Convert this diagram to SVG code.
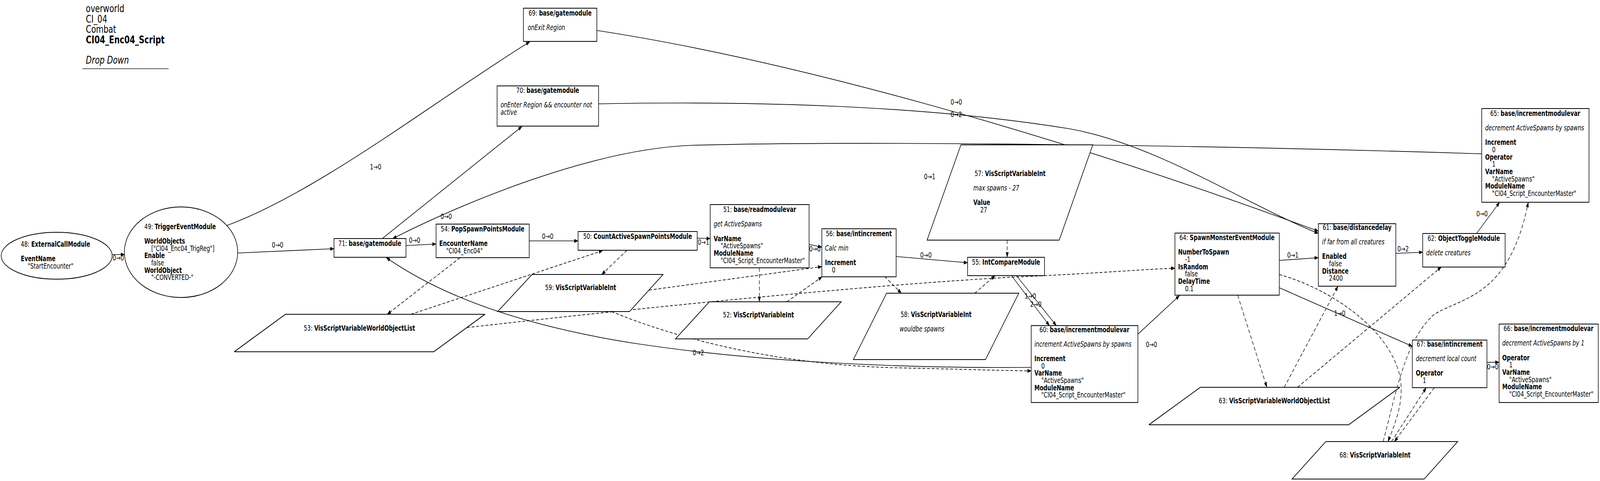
<svg xmlns="http://www.w3.org/2000/svg" width="5533" height="1232" viewBox="0 0 5533 1232" preserveAspectRatio="none">
<defs>
<style>
svg{width:100vw;height:100vh}
text{font-family:"DejaVu Sans","Liberation Sans",sans-serif;font-size:18.67px;fill:#000}
.b{font-weight:bold}
.i{font-style:italic}
.m{text-anchor:middle}
.hd{font-size:26.67px}
.s{fill:#fff;stroke:#000;stroke-width:2}
.c path{fill:none;stroke:#000;stroke-width:1.7;marker-end:url(#a)}
.c .d{stroke-dasharray:10,6}
.c text{text-anchor:middle}
</style>
<marker id="a" viewBox="0 0 14 10" refX="13" refY="5" markerWidth="14" markerHeight="10" orient="auto" markerUnits="userSpaceOnUse"><path d="M0,0L14,5L0,10z" fill="#000" stroke="none"/></marker>
</defs>
<rect x="0" y="0" width="5533" height="1232" fill="#fff"/>
<g id="title">
<text class="hd" x="297" y="31">overworld</text>
<text class="hd" x="297" y="58">CI_04</text>
<text class="hd" x="297" y="84">Combat</text>
<text class="hd b" x="297" y="111">CI04_Enc04_Script</text>
<text class="hd i" x="297" y="163">Drop Down</text>
<line x1="285" y1="176" x2="583" y2="176" stroke="#555" stroke-width="2"/>
</g>
<g id="connectors" class="c">
<path d="M388,652L431,652"/><text x="409" y="667">0→0</text>
<path d="M783,578C1100,492 1500,260 1832,107"/><text x="1299" y="434">1→0</text>
<path d="M822,648L1155,637"/><text x="960" y="634">0→0</text>
<path d="M1404,629L1508,625"/><text x="1434" y="622">0→0</text>
<path d="M1322,611L1805,324"/><text x="1543" y="561">0→0</text>
<path d="M2064,78C2700,150 3600,330 4559,592"/><text x="3307" y="268">0→0</text>
<path d="M2070,266C2600,258 3200,270 3700,330C4000,370 4300,520 4559,598"/><text x="3307" y="300">0→2</text>
<path d="M5124,394C4200,372 3000,360 2400,372C2050,380 1600,520 1358,611"/><text x="3215" y="459">0→1</text>
<path d="M1830,617L1999,617"/><text x="1894" y="612">0→0</text>
<path d="M2411,610L2456,611"/><text x="2433" y="627">0→1</text>
<path d="M2798,626L2842,633"/><text x="2818" y="644">0→0</text>
<path d="M3099,657L3346,673"/><text x="3202" y="660">0→0</text>
<path d="M3498,706L3629,834"/><text x="3563" y="765">1→0</text>
<path d="M3515,706L3653,834"/><text x="3582" y="786">2→0</text>
<path d="M3566,941C3100,944 2600,925 2200,880C1850,840 1550,770 1336,660"/><text x="2415" y="910">0→2</text>
<path d="M3935,856L4079,757"/><text x="3982" y="889">0→0</text>
<path d="M4424,667L4559,660"/><text x="4471" y="660">0→1</text>
<path d="M4827,649L4920,646"/><text x="4852" y="644">0→2</text>
<path d="M5106,598L5186,518"/><text x="5125" y="554">0→0</text>
<path d="M4424,737L4884,887"/><text x="4633" y="809">1→0</text>
<path d="M5142,928L5184,928"/><text x="5162" y="946">0→0</text>
<path class="d" d="M1591,660L1339,805"/>
<path class="d" d="M1421,805L2084,642"/>
<path class="d" d="M2168,641L2081,703"/>
<path class="d" d="M2626,686L2626,773"/>
<path class="d" d="M2721,773L2843,709"/>
<path class="d" d="M2245,743L2842,683"/>
<path class="d" d="M2115,798C2350,870 2700,935 3100,942C3300,945 3450,949 3566,950"/>
<path class="d" d="M1615,839C2200,790 3000,730 3500,710C3800,700 3950,690 4063,687"/>
<path class="d" d="M3059,708L3117,751"/>
<path class="d" d="M3371,751L3441,706"/>
<path class="d" d="M3483,615L3483,659"/>
<path class="d" d="M4280,756L4381,992"/>
<path class="d" d="M4441,992L4627,733"/>
<path class="d" d="M4487,992L4984,684"/>
<path class="d" d="M4424,703C4600,740 4800,840 4840,960C4860,1030 4820,1090 4800,1131"/>
<path class="d" d="M4783,1131C4830,1000 4860,870 4960,805C5060,760 5220,760 5285,518"/>
<path class="d" d="M4812,1131L4932,993"/>
<path class="d" d="M4960,993L4822,1131"/>
</g>
<g id="n48"><ellipse class="s" cx="196" cy="655" rx="192" ry="60"/>
<text x="72" y="632">48: <tspan class="b">ExternalCallModule</tspan></text>
<text class="b" x="72" y="669">EventName</text>
<text x="96" y="688">"StartEncounter"</text></g>
<g id="n49"><ellipse class="s" cx="626" cy="646" rx="196" ry="116"/>
<text x="499" y="587">49: <tspan class="b">TriggerEventModule</tspan></text>
<text class="b" x="499" y="624">WorldObjects</text>
<text x="523" y="643">["CI04_Enc04_TrigReg"]</text>
<text class="b" x="499" y="661">Enable</text>
<text x="523" y="680">false</text>
<text class="b" x="499" y="699">WorldObject</text>
<text x="523" y="717">"-CONVERTED-"</text></g>
<g id="n69"><rect class="s" x="1810" y="21" width="254" height="85"/>
<text class="m" x="1937" y="40">69: <tspan class="b">base/gatemodule</tspan></text>
<text class="i" x="1825" y="77">onExit Region</text></g>
<g id="n70"><rect class="s" x="1719" y="220" width="351" height="103"/>
<text class="m" x="1894" y="238">70: <tspan class="b">base/gatemodule</tspan></text>
<text class="i" x="1731" y="275">onEnter Region &amp;&amp; encounter not</text>
<text class="i" x="1731" y="294">active</text></g>
<g id="n71"><rect class="s" x="1155" y="611" width="249" height="48"/>
<text class="m" x="1279" y="630">71: <tspan class="b">base/gatemodule</tspan></text></g>
<g id="n54"><rect class="s" x="1508" y="574" width="322" height="86"/>
<text class="m" x="1669" y="593">54: <tspan class="b">PopSpawnPointsModule</tspan></text>
<text class="b" x="1519" y="630">EncounterName</text>
<text x="1543" y="649">"CI04_Enc04"</text></g>
<g id="n50"><rect class="s" x="1999" y="593" width="412" height="48"/>
<text class="m" x="2205" y="612">50: <tspan class="b">CountActiveSpawnPointsModule</tspan></text></g>
<g id="n51"><rect class="s" x="2456" y="524" width="342" height="162"/>
<text class="m" x="2627" y="543">51: <tspan class="b">base/readmodulevar</tspan></text>
<text class="i" x="2468" y="580">get ActiveSpawns</text>
<text class="b" x="2468" y="618">VarName</text>
<text x="2492" y="636">"ActiveSpawns"</text>
<text class="b" x="2468" y="655">ModuleName</text>
<text x="2492" y="674">"CI04_Script_EncounterMaster"</text></g>
<g id="n52"><polygon class="s" points="2453,773 2909,773 2793,868 2336,868"/>
<text class="m" x="2623" y="813">52: <tspan class="b">VisScriptVariableInt</tspan></text></g>
<g id="n53"><polygon class="s" points="987,805 1677,805 1500,901 810,901"/>
<text class="m" x="1243" y="847">53: <tspan class="b">VisScriptVariableWorldObjectList</tspan></text></g>
<g id="n55"><rect class="s" x="3346" y="659" width="266" height="47"/>
<text class="m" x="3479" y="678">55: <tspan class="b">IntCompareModule</tspan></text></g>
<g id="n56"><rect class="s" x="2842" y="586" width="257" height="123"/>
<text class="m" x="2970" y="605">56: <tspan class="b">base/intincrement</tspan></text>
<text class="i" x="2853" y="642">Calc min</text>
<text class="b" x="2853" y="679">Increment</text>
<text x="2877" y="698">0</text></g>
<g id="n57"><polygon class="s" points="3323,371 3779,371 3663,615 3206,615"/>
<text class="m" x="3493" y="451">57: <tspan class="b">VisScriptVariableInt</tspan></text>
<text class="i" x="3366" y="488">max spawns - 27</text>
<text class="b" x="3366" y="525">Value</text>
<text x="3390" y="544">27</text></g>
<g id="n58"><polygon class="s" points="3066,751 3523,751 3408,921 2951,921"/>
<text class="m" x="3237" y="812">58: <tspan class="b">VisScriptVariableInt</tspan></text>
<text class="i" x="3111" y="849">wouldbe spawns</text></g>
<g id="n59"><polygon class="s" points="1840,703 2293,703 2177,798 1721,798"/>
<text class="m" x="2008" y="743">59: <tspan class="b">VisScriptVariableInt</tspan></text></g>
<g id="n60"><rect class="s" x="3566" y="834" width="369" height="197"/>
<text class="m" x="3750" y="851">60: <tspan class="b">base/incrementmodulevar</tspan></text>
<text class="i" x="3577" y="888">increment ActiveSpawns by spawns</text>
<text class="b" x="3577" y="925">Increment</text>
<text x="3601" y="944">0</text>
<text class="b" x="3577" y="962">VarName</text>
<text x="3601" y="981">"ActiveSpawns"</text>
<text class="b" x="3577" y="1000">ModuleName</text>
<text x="3601" y="1018">"CI04_Script_EncounterMaster"</text></g>
<g id="n61"><rect class="s" x="4559" y="573" width="268" height="160"/>
<text class="m" x="4693" y="589">61: <tspan class="b">base/distancedelay</tspan></text>
<text class="i" x="4572" y="626">if far from all creatures</text>
<text class="b" x="4572" y="663">Enabled</text>
<text x="4596" y="682">false</text>
<text class="b" x="4572" y="701">Distance</text>
<text x="4596" y="719">2400</text></g>
<g id="n62"><rect class="s" x="4920" y="598" width="285" height="86"/>
<text class="m" x="5062" y="617">62: <tspan class="b">ObjectToggleModule</tspan></text>
<text class="i" x="4932" y="654">delete creatures</text></g>
<g id="n63"><polygon class="s" points="4151,992 4841,992 4664,1088 3973,1088"/>
<text class="m" x="4407" y="1033">63: <tspan class="b">VisScriptVariableWorldObjectList</tspan></text></g>
<g id="n64"><rect class="s" x="4063" y="597" width="361" height="159"/>
<text class="m" x="4243" y="615">64: <tspan class="b">SpawnMonsterEventModule</tspan></text>
<text class="b" x="4074" y="652">NumberToSpawn</text>
<text x="4098" y="671">-1</text>
<text class="b" x="4074" y="690">IsRandom</text>
<text x="4098" y="708">false</text>
<text class="b" x="4074" y="727">DelayTime</text>
<text x="4098" y="746">0.1</text></g>
<g id="n65"><rect class="s" x="5124" y="278" width="371" height="240"/>
<text class="m" x="5309" y="297">65: <tspan class="b">base/incrementmodulevar</tspan></text>
<text class="i" x="5136" y="334">decrement ActiveSpawns by spawns</text>
<text class="b" x="5136" y="371">Increment</text>
<text x="5160" y="390">0</text>
<text class="b" x="5136" y="409">Operator</text>
<text x="5160" y="427">1</text>
<text class="b" x="5136" y="446">VarName</text>
<text x="5160" y="465">"ActiveSpawns"</text>
<text class="b" x="5136" y="483">ModuleName</text>
<text x="5160" y="502">"CI04_Script_EncounterMaster"</text></g>
<g id="n66"><rect class="s" x="5184" y="830" width="343" height="201"/>
<text class="m" x="5355" y="848">66: <tspan class="b">base/incrementmodulevar</tspan></text>
<text class="i" x="5195" y="885">decrement ActiveSpawns by 1</text>
<text class="b" x="5195" y="923">Operator</text>
<text x="5219" y="941">1</text>
<text class="b" x="5195" y="960">VarName</text>
<text x="5219" y="979">"ActiveSpawns"</text>
<text class="b" x="5195" y="997">ModuleName</text>
<text x="5219" y="1016">"CI04_Script_EncounterMaster"</text></g>
<g id="n67"><rect class="s" x="4884" y="871" width="258" height="122"/>
<text class="m" x="5013" y="888">67: <tspan class="b">base/intincrement</tspan></text>
<text class="i" x="4896" y="925">decrement local count</text>
<text class="b" x="4896" y="962">Operator</text>
<text x="4920" y="981">1</text></g>
<g id="n68"><polygon class="s" points="4585,1131 5041,1131 4925,1227 4468,1227"/>
<text class="m" x="4755" y="1172">68: <tspan class="b">VisScriptVariableInt</tspan></text></g>
</svg>
